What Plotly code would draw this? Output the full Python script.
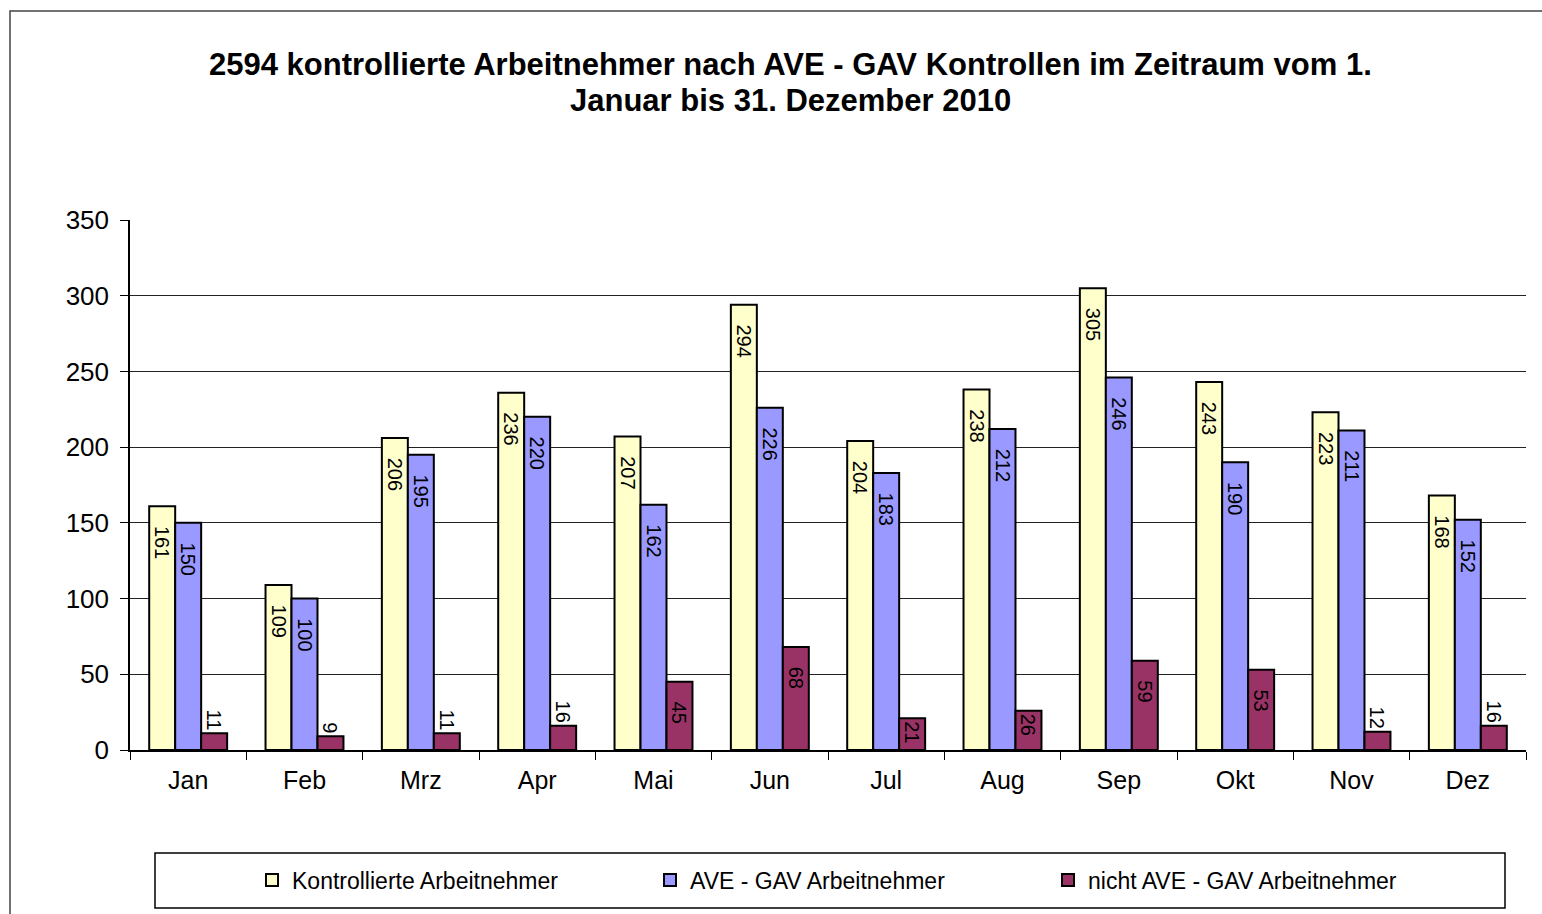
import plotly.graph_objects as go

months = ["Jan", "Feb", "Mrz", "Apr", "Mai", "Jun", "Jul", "Aug", "Sep", "Okt", "Nov", "Dez"]
kontrollierte = [161, 109, 206, 236, 207, 294, 204, 238, 305, 243, 223, 168]
ave_gav = [150, 100, 195, 220, 162, 226, 183, 212, 246, 190, 211, 152]
nicht_ave_gav = [11, 9, 11, 16, 45, 68, 21, 26, 59, 53, 12, 16]
series_names = ["Kontrollierte Arbeitnehmer", "AVE - GAV Arbeitnehmer", "nicht AVE - GAV Arbeitnehmer"]
series_colors = ["#FFFFCC", "#9999FF", "#993366"]
y_ticks = [0, 50, 100, 150, 200, 250, 300, 350]
title_lines = ["2594 kontrollierte Arbeitnehmer nach AVE - GAV Kontrollen im Zeitraum vom 1.",
               "Januar bis 31. Dezember 2010"]

FONT = "Liberation Sans, Arial, sans-serif"
PAD = "\u00a0\u00a0\u00a0"

# plot area in pixels: x 130..1526, y 220..750
def py(ypx):
    return (750 - ypx) / 530

def px(xpx):
    return (xpx - 130) / 1396

fig = go.Figure()
for name, vals, col in zip(series_names, [kontrollierte, ave_gav, nicht_ave_gav], series_colors):
    texts = [(PAD + str(v)) if v > 30 else str(v) for v in vals]
    positions = ["inside" if v > 18 else "outside" for v in vals]
    fig.add_trace(go.Bar(
        x=months, y=vals, name=name,
        marker=dict(color=col, line=dict(color="black", width=2)),
        text=texts,
        textposition=positions,
        insidetextanchor="end",
        textangle=90,
        constraintext="none",
        textfont=dict(family=FONT, size=20, color="black"),
        cliponaxis=False,
    ))

annotations = []
for line, ypix in zip(title_lines, [65, 100]):
    annotations.append(dict(
        text="<b>" + line + "</b>", xref="paper", yref="paper",
        x=px(790), y=py(ypix), xanchor="center", yanchor="middle",
        showarrow=False, font=dict(family=FONT, size=31, color="black"),
    ))

fig.update_layout(
    width=1542, height=914,
    paper_bgcolor="white", plot_bgcolor="white",
    margin=dict(l=130, r=16, t=220, b=164),
    barmode="group", bargap=0.33, bargroupgap=0,
    font=dict(family=FONT, color="black"),
    annotations=annotations,
    showlegend=True,
    legend=dict(
        orientation="h", x=px(252), xanchor="left", y=py(880), yanchor="middle",
        font=dict(family=FONT, size=23, color="black"),
        bgcolor="rgba(0,0,0,0)", borderwidth=0,
        entrywidth=353, itemwidth=30,
    ),
    xaxis=dict(
        showline=True, linecolor="black", linewidth=1.5,
        ticks="outside", ticklen=8, tickcolor="black", tickson="boundaries",
        tickfont=dict(family=FONT, size=25, color="black"),
        ticklabelstandoff=7,
        showgrid=False,
    ),
    yaxis=dict(
        range=[0, 350], tickvals=y_ticks,
        showline=True, linecolor="black", linewidth=1.5,
        ticks="outside", ticklen=8, tickcolor="black",
        tickfont=dict(family=FONT, size=26, color="black"),
        ticklabelstandoff=6,
        showgrid=True, gridcolor="#222222", gridwidth=1,
        zeroline=False,
    ),
    shapes=[
        dict(type="rect", xref="paper", yref="paper",
             x0=px(10), x1=1.2, y0=-0.5, y1=py(11),
             line=dict(color="#444444", width=1.5), fillcolor="rgba(0,0,0,0)", layer="below"),
        dict(type="rect", xref="paper", yref="paper",
             x0=px(155), x1=px(1505), y0=py(908), y1=py(853),
             line=dict(color="black", width=1.5), fillcolor="rgba(0,0,0,0)"),
    ],
)

fig.write_html("out.html", config={"displayModeBar": False},
               post_script="document.body.style.margin='0';document.body.style.overflow='hidden';")
